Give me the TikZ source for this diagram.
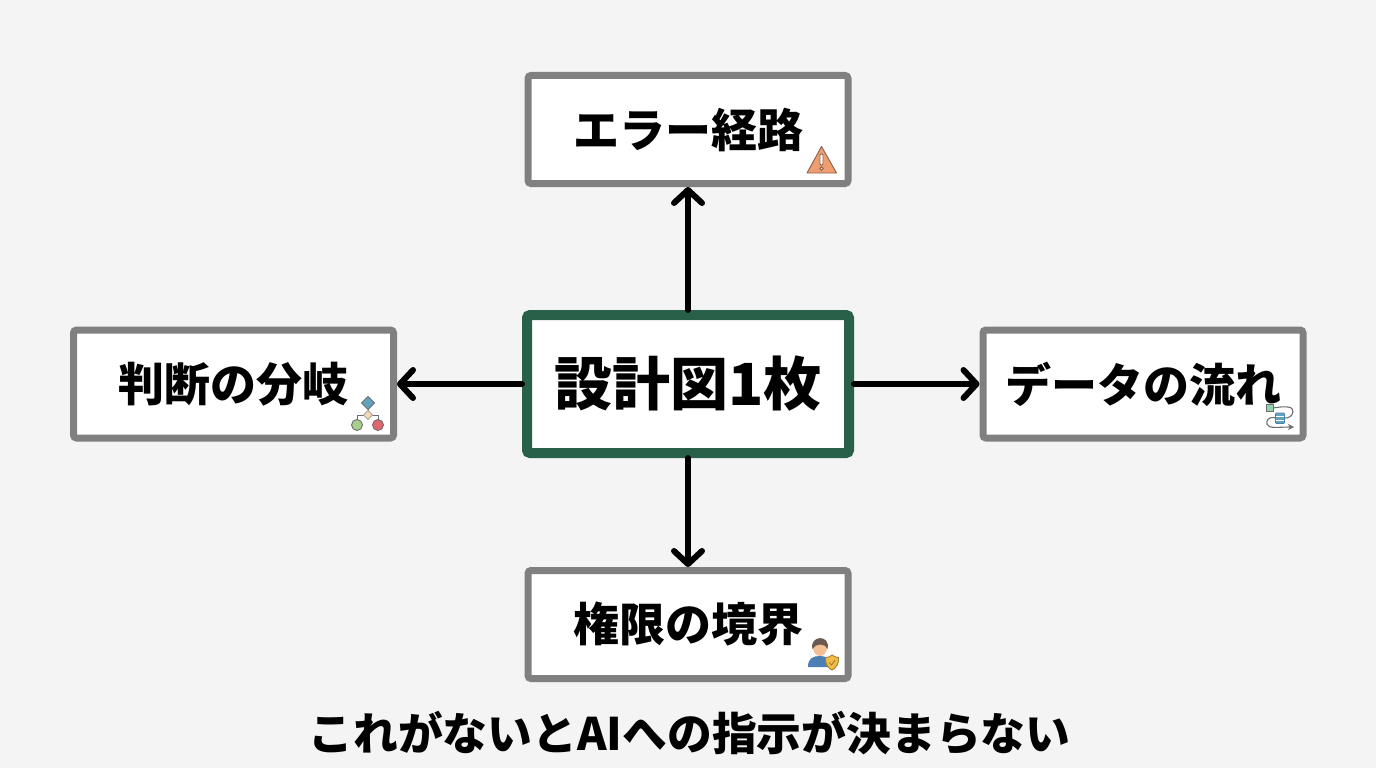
\documentclass[tikz,border=0pt]{standalone}
\usepackage{fontspec}
\newfontfamily\cjk{Noto Sans CJK JP}
\usetikzlibrary{arrows.meta,positioning,shapes.geometric}
\definecolor{paper}{HTML}{F4F4F4}
\definecolor{framegray}{HTML}{808080}
\definecolor{framegreen}{HTML}{28604A}
\definecolor{wire}{HTML}{6E6E6E}
\definecolor{warnfill}{HTML}{EE9E70}
\definecolor{warnline}{HTML}{8A5F48}
\definecolor{teal}{HTML}{5FA3BC}
\definecolor{sand}{HTML}{F5D9B0}
\definecolor{leaf}{HTML}{A8CF8C}
\definecolor{rose}{HTML}{E2656F}
\definecolor{mint}{HTML}{92D2A8}
\definecolor{skin}{HTML}{F3BF94}
\definecolor{hair}{HTML}{6A5A50}
\definecolor{coat}{HTML}{4E7FB4}
\definecolor{gold}{HTML}{F2BC48}
\definecolor{goldline}{HTML}{A87E28}
\newcommand\lowered[1]{\raisebox{-1.5pt}{#1}}
\tikzset{
  topic/.style={draw=framegray,fill=white,line width=7pt,rounded corners=3pt,
    minimum width=320pt,minimum height=108pt,inner sep=0pt,font=\fontsize{46}{46}\cjk\bfseries},
  hub/.style={draw=framegreen,fill=white,line width=10pt,rounded corners=3pt,
    minimum width=322pt,minimum height=138pt,inner sep=0pt,font=\fontsize{58}{58}\cjk\bfseries},
  link/.style={-{Straight Barb[length=13pt,width=28pt,round]},line width=6pt,line cap=round},
  icon/.style={line width=0.9pt},
}
\begin{document}
\begin{tikzpicture}[x=1pt,y=-1pt]
%%
  \useasboundingbox (0,0) rectangle (1376,768);
  \fill [paper] (0,0) rectangle (1376,768);
  \node (center) at (688,384) [hub] {設計図1枚};
  \node (error) at (688,129.5) [topic] {\lowered{エラー経路}};
  \node (branch) at (233.5,384) [topic] {\lowered{判断の分岐}};
  \node (data) at (1143,384) [topic] {\lowered{データの流れ}};
  \node (auth) at (688,624.5) [topic] {\lowered{権限の境界}};
  \node (caption) at (689.5,733) [font=\fontsize{44.8}{45}\cjk\bfseries,inner sep=0pt] {これがないとAIへの指示が決まらない};
  \draw [link] (center) -- (error);
  \draw [link] (center) -- (branch);
  \draw [link] (center) -- (data);
  \draw [link] (center) -- (auth);
  % warning icon
  \draw [icon,fill=warnfill,draw=warnline,line join=round] (821.5,146.5) -- (836.5,173) -- (807,173) -- cycle;
  \draw [icon,fill=white,draw=warnline,rounded corners=1pt] (820,154) rectangle (823,165);
  \draw [icon,fill=white,draw=warnline] (821.5,168.5) circle (1.7);
  % branch icon
  \draw [wire,line width=1pt] (357,425) -- (357,415) -- (378,415) -- (378,425);
  \draw [wire,line width=1pt] (368,403) -- (368,415);
  \draw [icon,fill=teal,draw=wire] (368,396.5) -- (374.5,403) -- (368,409.5) -- (361.5,403) -- cycle;
  \draw [icon,fill=sand,draw=wire!60] (368,410.5) -- (372.5,415) -- (368,419.5) -- (363.5,415) -- cycle;
  \draw [icon,fill=leaf,draw=wire] (357,425) circle (5.5);
  \draw [icon,fill=rose,draw=wire] (378,425) circle (5.5);
  % data icon
  \draw [wire,line width=1.1pt] (1273,408) .. controls (1285,406) and (1294,406) .. (1293,412) .. controls (1292,417) and (1288,418) .. (1285,418);
  \draw [wire,line width=1.1pt,-{Stealth[length=6pt,width=6pt]}] (1276,418) .. controls (1268,416) and (1266,421) .. (1267,424) .. controls (1268,429) and (1278,427) .. (1294,427);
  \draw [icon,fill=mint,draw=wire] (1266.5,404.5) rectangle (1273.5,411.5);
  \draw [icon,fill=teal,draw=coat,rounded corners=1pt] (1275.5,413) rectangle (1284.5,423.5);
  \draw [white,line width=0.6pt] (1276,416.5) -- (1284,416.5) (1276,420) -- (1284,420);
  % user icon
  \fill [coat] (808,667) .. controls (808,658) and (813,656) .. (820,656) .. controls (826,656) and (830,658) .. (831,667) -- cycle;
  \fill [skin] (820,647.5) ellipse (7 and 8.5);
  \fill [hair] (812.5,649) .. controls (809,635) and (831,634) .. (827.5,649) .. controls (826,643) and (815,643) .. (812.5,649) -- cycle;
  \draw [icon,fill=gold,draw=goldline] (832,655) .. controls (835,657) and (837,657.5) .. (838.5,657.5) .. controls (839,664) and (836,668) .. (832,670) .. controls (828,668) and (825,664) .. (825.5,657.5) .. controls (828,657.5) and (830,657) .. (832,655) -- cycle;
  \draw [goldline,line width=1pt] (829,662.5) -- (831.5,665) -- (835,660);
%
\end{tikzpicture}
\end{document}
